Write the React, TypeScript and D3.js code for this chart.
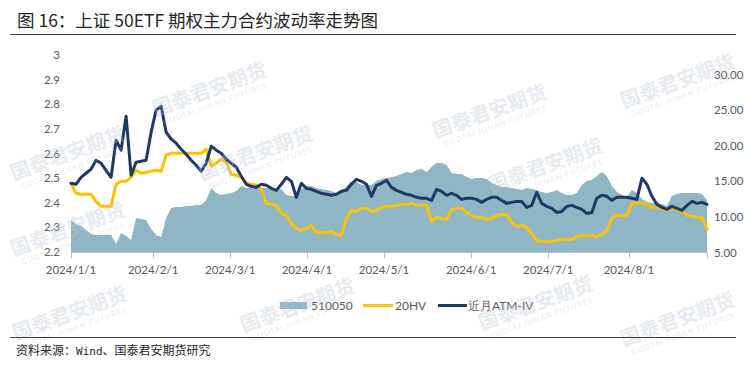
import React from "react";
import * as d3 from "d3";

// 510050 ETF price (left axis)
const etf510050 = [
  2.330, 2.314, 2.306, 2.289, 2.273, 2.269, 2.269, 2.269, 2.269, 2.232,
  2.277, 2.265, 2.249, 2.338, 2.334, 2.330, 2.293, 2.269, 2.261, 2.338,
  2.379, 2.383, 2.383, 2.387, 2.387, 2.391, 2.391, 2.411, 2.460, 2.440,
  2.431, 2.436, 2.440, 2.448, 2.468, 2.460, 2.464, 2.460, 2.460, 2.460,
  2.456, 2.452, 2.456, 2.431, 2.427, 2.427, 2.456, 2.468, 2.468, 2.460,
  2.456, 2.452, 2.448, 2.440, 2.444, 2.468, 2.488, 2.484, 2.472, 2.472,
  2.472, 2.488, 2.496, 2.501, 2.505, 2.509, 2.517, 2.525, 2.521, 2.533,
  2.537, 2.525, 2.545, 2.561, 2.561, 2.553, 2.521, 2.517, 2.517, 2.505,
  2.496, 2.501, 2.501, 2.496, 2.480, 2.472, 2.464, 2.464, 2.460, 2.456,
  2.452, 2.460, 2.456, 2.452, 2.444, 2.440, 2.444, 2.452, 2.440, 2.431,
  2.431, 2.440, 2.472, 2.488, 2.492, 2.509, 2.525, 2.509, 2.468, 2.444,
  2.431, 2.423, 2.452, 2.440, 2.415, 2.403, 2.399, 2.399, 2.395, 2.387,
  2.427, 2.436, 2.440, 2.440, 2.440, 2.440, 2.436, 2.411,
];

// 20-day historical volatility (right axis)
const hv20 = [
  14.72, 13.31, 13.17, 13.17, 13.17, 12.18, 11.48, 11.48, 11.48, 14.58,
  15.00, 15.00, 15.56, 16.55, 16.13, 16.27, 16.41, 16.55, 16.41, 18.66,
  18.94, 18.94, 18.94, 18.94, 18.94, 18.94, 18.94, 19.51, 17.11, 17.54,
  18.10, 17.68, 15.99, 15.85, 15.56, 14.72, 14.58, 14.44, 13.87, 11.90,
  11.76, 11.62, 10.49, 10.21, 9.08, 8.38, 8.10, 8.38, 8.80, 7.82,
  7.82, 7.82, 7.96, 7.54, 7.39, 9.79, 10.92, 10.77, 11.20, 11.20,
  10.77, 10.92, 11.34, 11.48, 11.48, 11.62, 11.76, 11.76, 11.90, 11.62,
  11.62, 11.62, 9.37, 9.93, 9.79, 9.65, 11.06, 11.20, 11.20, 10.63,
  10.21, 9.93, 9.93, 9.65, 9.79, 10.21, 10.35, 10.35, 9.23, 8.66,
  8.80, 8.52, 7.68, 6.69, 6.55, 6.55, 6.55, 6.69, 6.83, 6.83,
  6.83, 7.25, 7.39, 7.39, 7.39, 7.25, 7.54, 8.10, 9.79, 10.21,
  10.21, 10.21, 11.90, 11.90, 11.90, 11.76, 11.34, 11.34, 11.20, 10.92,
  11.20, 11.06, 10.77, 10.21, 10.07, 9.93, 9.93, 8.24,
];

// Front-month ATM implied volatility (right axis)
const atmIV = [
  14.72, 14.58, 15.56, 16.13, 16.69, 17.96, 17.54, 16.55, 15.56, 20.77,
  19.37, 24.15, 15.85, 17.68, 17.82, 17.96, 21.90, 25.00, 25.56, 21.90,
  20.92, 20.35, 19.51, 18.80, 17.96, 17.25, 16.41, 17.54, 19.93, 19.37,
  18.94, 18.10, 17.54, 16.97, 15.70, 14.58, 14.30, 14.15, 14.58, 14.44,
  14.01, 13.73, 14.58, 15.56, 15.00, 12.75, 14.72, 14.01, 13.87, 13.59,
  13.31, 13.17, 13.03, 13.17, 13.59, 13.73, 14.58, 15.28, 15.00, 14.58,
  12.89, 14.44, 14.72, 15.14, 14.15, 13.73, 13.45, 13.17, 13.03, 12.75,
  12.61, 12.61, 12.32, 13.87, 13.59, 13.03, 13.31, 13.03, 12.46, 12.61,
  12.61, 12.46, 12.04, 12.46, 12.75, 12.75, 12.32, 11.90, 12.04, 12.18,
  12.18, 11.34, 11.62, 13.45, 11.90, 11.48, 11.20, 10.63, 10.77, 11.48,
  11.62, 11.34, 11.06, 10.49, 10.63, 12.61, 13.03, 12.89, 12.32, 12.75,
  12.75, 12.75, 12.61, 12.46, 15.42, 14.58, 12.89, 11.76, 11.34, 11.06,
  11.48, 11.20, 10.92, 11.62, 12.18, 11.90, 12.04, 11.76,
];

const xTickPos = [0, 16.4, 31.8, 47.1, 62.5, 79.9, 95.3, 111.4];
const xTickLabels = [
  "2024/1/1", "2024/2/1", "2024/3/1", "2024/4/1",
  "2024/5/1", "2024/6/1", "2024/7/1", "2024/8/1",
];
const leftTicks = [2.2, 2.3, 2.4, 2.5, 2.6, 2.7, 2.8, 2.9, 3.0];
const leftTickLabels = ["2.2", "2.3", "2.4", "2.5", "2.6", "2.7", "2.8", "2.9", "3"];
const rightTicks = [5, 10, 15, 20, 25, 30];
const rightTickLabels = ["5.00", "10.00", "15.00", "20.00", "25.00", "30.00"];
const seriesNames = ["510050", "20HV", "近月ATM-IV"];

const titleText = "图 16：上证 50ETF 期权主力合约波动率走势图";
const sourceText = ["资料来源：", "Wind", "、国泰君安期货研究"];

const watermarks = [
  [212, 96], [492, 118], [680, 88],
  [70, 160], [258, 160], [548, 172],
  [70, 236], [300, 312], [538, 310], [680, 326], [72, 320],
];

const W = 744;
const H = 366;
const AREA_COLOR = "#8fb6c5";
const HV_COLOR = "#ffc000";
const IV_COLOR = "#1f3864";
const LABEL_FONT = "Lato, 'Open Sans', sans-serif";
const CJK_FONT = "'Noto Sans CJK SC', sans-serif";

export default function App() {
  const n = etf510050.length;
  const x = d3.scaleLinear().domain([0, n - 1]).range([71, 707]);
  const yL = d3.scaleLinear().domain([2.2, 3.0]).range([252, 55]);
  const yR = d3.scaleLinear().domain([5, 30]).range([252.5, 74.5]);

  const area = d3
    .area<number>()
    .x((_, i) => x(i))
    .y0(yL(2.2))
    .y1((d) => yL(d));
  const lineR = d3
    .line<number>()
    .x((_, i) => x(i))
    .y((d) => yR(d));

  const baseY = yL(2.2);

  return (
    <svg
      width={W}
      height={H}
      viewBox={`0 0 ${W} ${H}`}
      style={{ position: "absolute", left: 0, top: 0, background: "#fff" }}
    >
      <rect x={0} y={0} width={W} height={H} fill="#fff" />

      {/* Title */}
      <text x={17} y={27} fontFamily={CJK_FONT} fontSize={17.5} fill="#262626">
        {titleText}
      </text>
      <line x1={10} x2={736} y1={34.5} y2={34.5} stroke="#404040" strokeWidth={1} />

      {/* Area series */}
      <path d={area(etf510050) || ""} fill={AREA_COLOR} />

      {/* X axis */}
      <line x1={x(0)} x2={x(n - 1)} y1={baseY + 0.5} y2={baseY + 0.5} stroke="#bfbfbf" strokeWidth={1} />
      {[...xTickPos, n - 1].map((p, i) => (
        <line
          key={"xt" + i}
          x1={Math.round(x(p)) + 0.5}
          x2={Math.round(x(p)) + 0.5}
          y1={baseY}
          y2={baseY + 6}
          stroke="#bfbfbf"
          strokeWidth={1}
        />
      ))}
      {xTickPos.map((p, i) => (
        <text
          key={"xl" + i}
          x={x(p)}
          y={274}
          textAnchor="middle"
          fontFamily={LABEL_FONT}
          fontSize={11.5}
          fill="#595959"
        >
          {xTickLabels[i]}
        </text>
      ))}

      {/* Left axis labels */}
      {leftTicks.map((t, i) => (
        <text
          key={"yl" + i}
          x={60}
          y={yL(t)}
          dy="0.35em"
          textAnchor="end"
          fontFamily={LABEL_FONT}
          fontSize={11.5}
          fill="#595959"
        >
          {leftTickLabels[i]}
        </text>
      ))}

      {/* Right axis labels */}
      {rightTicks.map((t, i) => (
        <text
          key={"yr" + i}
          x={714}
          y={yR(t)}
          dy="0.35em"
          textAnchor="start"
          fontFamily={LABEL_FONT}
          fontSize={11.5}
          fill="#595959"
        >
          {rightTickLabels[i]}
        </text>
      ))}

      {/* Lines */}
      <path d={lineR(hv20) || ""} fill="none" stroke={HV_COLOR} strokeWidth={3} strokeLinejoin="round" strokeLinecap="round" />
      <path d={lineR(atmIV) || ""} fill="none" stroke={IV_COLOR} strokeWidth={3} strokeLinejoin="round" strokeLinecap="round" />

      {/* Legend */}
      <rect x={280} y={302} width={27} height={7} fill={AREA_COLOR} />
      <text x={311} y={309.5} fontFamily={LABEL_FONT} fontSize={12} fill="#595959">
        {seriesNames[0]}
      </text>
      <line x1={363} x2={393} y1={305.5} y2={305.5} stroke={HV_COLOR} strokeWidth={3} />
      <text x={395} y={309.5} fontFamily={LABEL_FONT} fontSize={12} fill="#595959">
        {seriesNames[1]}
      </text>
      <line x1={438} x2={467} y1={305.5} y2={305.5} stroke={IV_COLOR} strokeWidth={3} />
      <text x={468} y={309.5} fontFamily={LABEL_FONT} fontSize={12} fill="#595959">
        {seriesNames[2]}
      </text>

      {/* Watermarks */}
      {watermarks.map(([cx, cy], i) => (
        <g key={"wm" + i} transform={`translate(${cx},${cy}) rotate(-20)`} opacity={0.35}>
          <text
            x={0}
            y={0}
            textAnchor="middle"
            fontFamily={CJK_FONT}
            fontWeight={700}
            fontSize={20}
            fill="#b8c8d8"
          >
            国泰君安期货
          </text>
          <text
            x={0}
            y={11}
            textAnchor="middle"
            fontFamily={LABEL_FONT}
            fontSize={7.5}
            letterSpacing={1}
            fill="#b8c8d8"
          >
            GUOTAI JUNAN FUTURES
          </text>
        </g>
      ))}

      {/* Footer */}
      <line x1={10} x2={736} y1={337.5} y2={337.5} stroke="#404040" strokeWidth={1} />
      <text x={16} y={355} fontFamily={CJK_FONT} fontSize={12} fill="#262626">
        {sourceText[0]}
        <tspan fontFamily="'DejaVu Sans Mono', monospace" fontSize={11}>
          {sourceText[1]}
        </tspan>
        {sourceText[2]}
      </text>
    </svg>
  );
}
